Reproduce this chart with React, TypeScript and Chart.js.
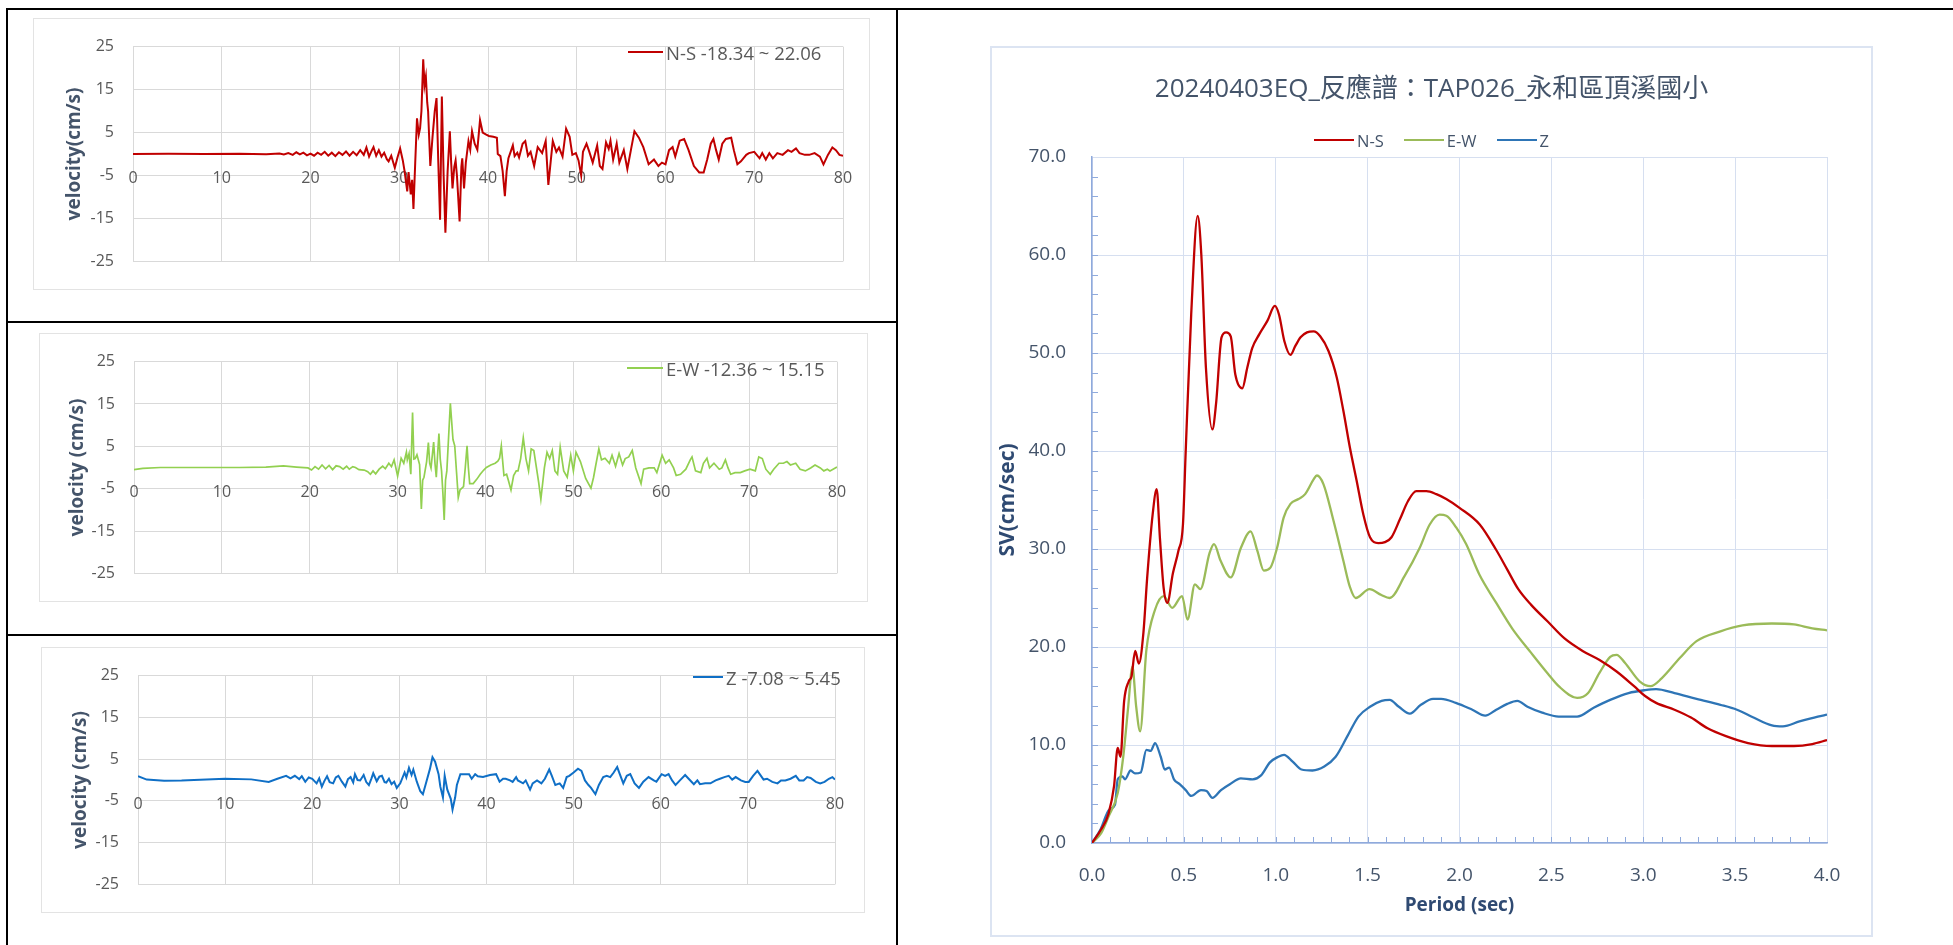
import React, { useEffect, useRef } from 'react';
import { Chart, registerables } from 'chart.js';

Chart.register(...registerables);

// ---------------- DATA ----------------
const timeTicks = [0, 10, 20, 30, 40, 50, 60, 70, 80];
const velocityTicks = [-25, -15, -5, 5, 15, 25];
const periodTicks = [0, 0.5, 1.0, 1.5, 2.0, 2.5, 3.0, 3.5, 4.0];
const svTicks = [0, 10, 20, 30, 40, 50, 60, 70];

const nsLabel = 'N-S -18.34 ~ 22.06';
const ewLabel = 'E-W -12.36 ~ 15.15';
const zLabel = 'Z -7.08 ~ 5.45';
const spectrumTitle = '20240403EQ_反應譜：TAP026_永和區頂溪國小';
const seriesNames = ['N-S', 'E-W', 'Z'];

const nsVelocity = [
  [0, 0], [4, 0.05], [8, 0], [12, 0.05], [15, -0.05], [16.5, 0.1], [17, -0.1], [17.5, 0.2], [18, -0.2], [18.4, 0.4],
  [18.8, -0.1], [19.2, 0.3], [19.6, -0.3], [20, 0.1], [20.4, -0.4], [20.8, 0.3], [21.2, -0.2], [21.6, 0.5], [22, -0.4],
  [22.4, 0.3], [22.8, -0.5], [23.2, 0.4], [23.6, -0.2], [24, 0.6], [24.4, -0.4], [24.8, 0.5], [25.2, -0.3], [25.6, 0.9],
  [26, -0.2], [26.3, 1.5], [26.6, -0.6], [26.9, 0.8], [27.1, 1.6], [27.4, -0.4], [27.7, 0.9], [28, -0.6], [28.3, 0.3],
  [28.6, -1.2], [28.8, -1.7], [29.1, -0.4], [29.5, -3.2], [29.8, -0.8], [30.1, 1.3], [30.4, -1.5], [30.6, -4],
  [30.9, -8.7], [31.05, -4.2], [31.3, -9.4], [31.45, -6], [31.6, -12.8], [31.8, -2], [32, 8.3], [32.2, 4.5],
  [32.35, 6], [32.5, 10], [32.7, 22.06], [32.85, 16], [33.0, 18], [33.15, 12], [33.25, 10], [33.5, -2.8], [33.75, 4],
  [34.0, 10], [34.2, 13], [34.4, -2], [34.6, -15.3], [34.8, 13.4], [35.0, -5], [35.2, -18.34], [35.45, -4], [35.7, 5.3],
  [35.85, -2], [36.0, -8], [36.2, -3], [36.35, -1.5], [36.5, -5], [36.8, -15.7], [37.0, -3], [37.1, -1], [37.3, -8],
  [37.5, -2], [37.8, 3], [38.0, 1], [38.2, 5.3], [38.5, 2.4], [38.8, 1], [39.1, 7.9], [39.4, 5], [39.8, 4.5],
  [40.1, 4.2], [40.6, 4.0], [41.0, 3.8], [41.1, 0], [41.4, -0.5], [41.65, -4], [41.9, -9.8], [42.1, -4], [42.3, -1],
  [42.55, 0.5], [42.8, 2], [43.0, -0.5], [43.3, 0.3], [43.5, -0.8], [43.9, 2.4], [44.2, 3], [44.5, -0.4], [44.8, 0.5],
  [45.2, -2.8], [45.6, 1.6], [46.1, 0.2], [46.5, 3], [46.8, -7.2], [47.1, -1], [47.3, 3], [47.7, 0.5], [48.0, 1.5],
  [48.4, -0.6], [48.8, 5.9], [49.2, 4], [49.5, -0.2], [49.9, 0.2], [50.2, -1.5], [50.5, -5], [50.7, 0.5], [51.1, 2.4],
  [51.4, 0.6], [51.8, -2], [52.3, 2], [52.6, -2.8], [52.9, -3.5], [53.3, 2.7], [53.6, 1.2], [53.8, 3.1], [54.1, -1.3],
  [54.5, 2.4], [54.8, -2], [55.3, 0.9], [55.7, -3.5], [56.1, 0.9], [56.5, 5.3], [57.0, 3.8], [57.5, 1.6], [58.1, -2.4],
  [58.7, -1.3], [59.2, -2.8], [59.6, -2], [60, -2.4], [60.4, 0.9], [60.8, 1.6], [61.1, -0.6], [61.6, 3.1], [62.1, 3.5],
  [62.6, 0.9], [63.2, -2.8], [63.8, -4.3], [64.3, -4.3], [64.7, -1.3], [65.1, 2.4], [65.4, 3.5], [65.7, 0.9],
  [66.0, -1.3], [66.4, 2.4], [66.8, 3.5], [67.4, 3.8], [67.7, 0.9], [68.1, -2.4], [68.5, -1.7], [69.1, -0.2],
  [69.4, 0.2], [70.0, 0.5], [70.6, -1], [70.9, 0.2], [71.3, -1.3], [71.7, 0.2], [72.1, -1], [72.6, 0.2], [73.2, -0.2],
  [73.8, 0.9], [74.2, 0.5], [74.7, 1.3], [75.1, 0.2], [75.7, -0.2], [76.2, -0.2], [76.8, 0.2], [77.4, -0.6],
  [77.8, -2.4], [78.3, -0.2], [78.8, 1.5], [79.2, 0.9], [79.6, -0.2], [80, -0.4],
];

const ewVelocity = [
  [0, -0.5], [1, -0.2], [3, 0], [8, 0], [12, 0], [15, 0.1], [17, 0.4], [18.5, 0.1], [19.8, -0.1], [20.2, -0.6],
  [20.6, 0.2], [21, -0.4], [21.4, 0.6], [21.8, -0.3], [22.2, 0.5], [22.6, -0.5], [23, 0.4], [23.4, 0.2], [23.8, -0.4],
  [24.2, 0.3], [24.5, -0.4], [24.9, 0.2], [25.2, 0], [25.6, -0.5], [26.2, -0.6], [26.6, -1.0], [26.9, -1.6],
  [27.2, -0.8], [27.5, -1.5], [27.9, -0.4], [28.3, 0.3], [28.6, -0.3], [29, 1], [29.3, 0.2], [29.6, 1.8], [30, -2],
  [30.4, 2.2], [30.7, 1], [31, 3.6], [31.1, 1.8], [31.3, 3.3], [31.5, -1.6], [31.7, 13], [31.85, 2], [32, 2.1],
  [32.2, 3], [32.5, 0.7], [32.7, -9.8], [32.85, -3], [33, -2.3], [33.3, 1.4], [33.5, 5.9], [33.65, 1], [33.8, -0.1],
  [34.1, 6], [34.25, 1], [34.4, -2.3], [34.55, 3], [34.7, 8], [34.85, 2], [35, -0.8], [35.15, -6], [35.3, -12.36],
  [35.45, -3], [35.6, -0.8], [36, 15.15], [36.3, 6.6], [36.5, 5.1], [36.7, -1], [36.9, -7.1], [37.1, -5.3],
  [37.5, -4.5], [37.7, 0], [37.9, 5.1], [38.05, 0], [38.2, -3.8], [38.6, -3.8], [39, -2.8], [39.4, -1.6], [39.8, -0.6],
  [40.1, 0], [40.6, 0.6], [41.1, 1], [41.4, 1.5], [41.6, 2.2], [41.8, 5.1], [42.1, -1.9], [42.4, -1.6], [42.6, -3],
  [42.9, -5.3], [43.2, -1.9], [43.5, -0.8], [43.7, -0.8], [44, 2.1], [44.3, 7], [44.6, 2.1], [44.9, -0.8], [45.2, 4.4],
  [45.5, 4], [45.8, -0.1], [46.05, -3.5], [46.3, -7.5], [46.7, -0.1], [47, 3.6], [47.3, 2.1], [47.6, 4], [47.9, -0.8],
  [48.2, -1.6], [48.5, 4.8], [48.9, -0.8], [49.3, -2.3], [49.7, 2.9], [50, -0.8], [50.3, 3.6], [50.8, 1.4],
  [51.4, -2.6], [52, -4.9], [52.3, -2.3], [52.5, 0], [52.9, 4.4], [53.2, 1.8], [53.6, 2.2], [54.1, 1], [54.4, 2.9],
  [54.8, 0.3], [55.2, 3.3], [55.6, 0.6], [55.9, 2.1], [56.3, 2.5], [56.7, 4], [57.1, -0.1], [57.7, -3.8], [58, -0.4],
  [58.6, -0.1], [59.2, -0.1], [59.5, -1.2], [60.1, 2.9], [60.5, 1], [60.9, 1.8], [61.4, -0.1], [61.7, -1.9],
  [62.2, -1.6], [62.8, -0.4], [63.3, 1.8], [63.5, 2.5], [63.9, -0.8], [64.5, -1.2], [64.8, 1], [65.2, 2.2],
  [65.5, -0.1], [66, 1], [66.6, -0.4], [66.9, -0.1], [67.3, 1.8], [67.6, -0.1], [67.9, -1.6], [68.4, -1.2],
  [69, -1.2], [69.5, -0.8], [70.1, -0.4], [70.7, -0.8], [71.1, 2.5], [71.5, 2.1], [71.9, -0.4], [72.4, -1.6],
  [72.8, -0.4], [73.4, 1], [73.9, 1], [74.3, 1.4], [74.7, 0.6], [75.3, 1], [75.8, -0.4], [76.4, -0.8], [77, -0.1],
  [77.5, 0.6], [78.1, -0.1], [78.5, -0.8], [78.9, -0.4], [79.2, -0.8], [80, 0.1],
];

const zVelocity = [
  [0, 0.9], [1, 0.1], [3, -0.15], [5, -0.1], [10, 0.3], [13, 0.15], [15, -0.45], [16, 0.3], [17, 1.0], [17.5, 0.4],
  [18, 1.0], [18.5, 0.2], [18.8, 0.9], [19.2, -0.45], [19.6, 0.6], [20, 0.3], [20.5, -0.8], [20.8, 0.4], [21.1, -1.6],
  [21.4, -0.2], [21.7, 0.9], [22, -0.5], [22.4, -0.8], [22.7, 0.6], [23, 1.0], [23.4, -0.4], [23.8, -1.6], [24.1, 0.2],
  [24.4, 0.7], [24.7, -0.6], [24.9, 1.4], [25.2, 0], [25.5, -0.1], [25.9, 1.2], [26.2, -0.5], [26.5, -1.2], [26.8, 0.4],
  [27, 1.6], [27.4, -0.3], [27.7, 0.8], [28, 1.0], [28.3, -0.5], [28.5, -0.6], [28.8, 0.3], [29.1, -1.0], [29.4, -0.4],
  [29.7, -1.9], [30.1, -0.8], [30.6, 1.8], [30.8, 0.6], [31.1, 2.9], [31.4, 1.2], [31.6, 2.5], [32, -0.4], [32.4, -2.7],
  [32.7, -3.4], [33.1, -0.4], [33.5, 2.6], [33.8, 5.45], [34.1, 4.4], [34.5, 1.4], [34.7, -1.6], [35, -4.2], [35.2, 1.0],
  [35.5, -2.3], [35.9, -4.5], [36.1, -7.08], [36.4, -4.2], [36.6, -1.2], [37, 1.4], [37.5, 1.4], [38, 1.4], [38.3, 0.3],
  [38.7, 1.4], [39, 0.9], [39.6, 0.7], [40.4, 1.2], [41.1, 1.4], [41.5, -0.4], [41.9, 0.3], [42.2, 0.3], [42.7, -0.1],
  [43, -0.45], [43.4, 0.7], [43.6, -0.1], [44.2, -0.8], [44.5, -0.1], [45, -2.3], [45.3, -0.8], [45.8, -0.1],
  [46.3, -0.8], [46.7, 0.3], [47.2, 2.5], [47.5, 1], [47.9, -1.2], [48.4, -0.8], [48.8, -1.9], [49.2, 0.7], [49.5, 1],
  [50, 1.8], [50.5, 2.7], [50.9, 2.2], [51.3, -0.1], [51.7, -1.2], [52, -1.9], [52.5, -3.4], [52.9, -1.2], [53.4, 0.7],
  [53.8, 1], [54.2, 0.7], [54.6, 1.8], [55, 3.1], [55.3, 1.4], [55.7, -0.8], [56.1, 1], [56.5, 1.4], [57, -0.8],
  [57.5, -1.9], [58, -0.4], [58.6, 0.7], [59.2, -0.1], [59.5, -0.4], [60.1, 1.4], [60.5, 1], [60.9, 1.4], [61.3, -0.1],
  [61.7, -1.2], [62.2, -0.1], [62.8, 1.2], [63.2, 0.3], [63.8, -1], [64.2, -0.1], [64.5, -1], [65.1, -0.8], [65.7, -0.8],
  [66.3, -0.1], [66.8, 0.3], [67.3, 0.7], [67.8, 1], [68.2, 0.1], [68.6, 0.7], [69.2, -0.1], [69.7, -0.45],
  [70.1, -0.45], [70.6, 1], [71.1, 2.2], [71.5, 1], [71.8, 0.1], [72.2, 0.3], [72.8, -0.45], [73.4, -0.8], [73.8, -0.1],
  [74.3, -0.1], [74.9, 0.3], [75.5, 1], [75.9, -0.1], [76.4, -0.1], [76.8, 0.7], [77.2, 0.5], [77.8, -0.45],
  [78.3, -0.8], [78.8, -0.45], [79.3, 0.3], [79.7, 0.7], [80, 0.1],
];

const nsSpectrum = [
  [0, 0], [0.05, 1.4], [0.09, 3], [0.12, 5.8], [0.14, 9.7], [0.155, 8.8], [0.175, 14.5], [0.2, 16.5], [0.215, 17],
  [0.235, 19.6], [0.255, 18.3], [0.28, 21.5], [0.3, 27], [0.33, 33.5], [0.352, 36.1], [0.37, 31], [0.39, 26],
  [0.41, 24.5], [0.44, 27.5], [0.47, 29.8], [0.495, 32.5], [0.51, 40], [0.54, 54], [0.575, 64], [0.595, 60],
  [0.62, 48.5], [0.655, 42.2], [0.675, 44.8], [0.705, 51.6], [0.73, 52.1], [0.755, 51.7], [0.78, 47.8], [0.818, 46.4],
  [0.845, 48.5], [0.872, 50.5], [0.91, 51.9], [0.955, 53.3], [0.995, 54.8], [1.018, 53.9], [1.047, 51.2], [1.08, 49.8],
  [1.106, 50.7], [1.135, 51.6], [1.17, 52.1], [1.206, 52.2], [1.242, 51.7], [1.287, 50.2], [1.332, 47.5],
  [1.368, 44.1], [1.404, 40.3], [1.44, 37], [1.477, 33.5], [1.513, 31.2], [1.558, 30.6], [1.594, 30.7], [1.63, 31.2],
  [1.675, 33], [1.72, 34.9], [1.765, 35.9], [1.82, 35.9], [1.874, 35.6], [1.928, 35.1], [2.0, 34.2], [2.11, 32.5],
  [2.2, 29.9], [2.26, 27.9], [2.32, 25.9], [2.39, 24.3], [2.48, 22.6], [2.57, 20.9], [2.67, 19.6], [2.76, 18.7],
  [2.855, 17.5], [2.95, 16], [3.01, 15], [3.07, 14.3], [3.17, 13.6], [3.26, 12.8], [3.35, 11.7], [3.45, 10.9],
  [3.57, 10.2], [3.7, 9.9], [3.82, 9.9], [3.92, 10.1], [4.0, 10.5],
];

const ewSpectrum = [
  [0, 0], [0.05, 1], [0.09, 2.7], [0.14, 5.1], [0.17, 8.8], [0.197, 13.9], [0.22, 18], [0.24, 14], [0.262, 11.4],
  [0.296, 19.7], [0.343, 23.8], [0.39, 25.2], [0.437, 24], [0.49, 25.2], [0.52, 22.8], [0.56, 26.4], [0.59, 25.9],
  [0.64, 29.6], [0.664, 30.5], [0.7, 28.8], [0.755, 27.1], [0.81, 30.1], [0.863, 31.8], [0.9, 29.8], [0.935, 27.8],
  [0.971, 28.1], [1.007, 30.1], [1.043, 33.2], [1.08, 34.6], [1.124, 35.1], [1.16, 35.6], [1.206, 37.1], [1.224, 37.5],
  [1.26, 36.6], [1.314, 32.9], [1.368, 28.8], [1.404, 26.1], [1.435, 25], [1.51, 25.9], [1.575, 25.3], [1.62, 25],
  [1.7, 27.2], [1.783, 30.1], [1.838, 32.5], [1.892, 33.5], [1.928, 33.4], [1.982, 32.2], [2.036, 30.5], [2.108, 27.4],
  [2.2, 24.5], [2.29, 21.8], [2.39, 19.4], [2.48, 17.3], [2.54, 16], [2.64, 14.8], [2.7, 15.3], [2.76, 17.3],
  [2.82, 19], [2.855, 19.2], [2.9, 18.4], [2.98, 16.5], [3.04, 16], [3.1, 16.8], [3.2, 18.9], [3.29, 20.6],
  [3.42, 21.6], [3.54, 22.2], [3.7, 22.4], [3.82, 22.3], [3.92, 21.9], [4.0, 21.7],
];

const zSpectrum = [
  [0, 0], [0.047, 1.4], [0.094, 3.4], [0.125, 3.9], [0.14, 6.5], [0.165, 6.8], [0.18, 6.5], [0.21, 7.4], [0.234, 7.1],
  [0.265, 7.2], [0.296, 9.5], [0.32, 9.4], [0.343, 10.2], [0.374, 8.8], [0.396, 7.5], [0.42, 7.7], [0.446, 6.5],
  [0.477, 6], [0.51, 5.4], [0.54, 4.8], [0.593, 5.4], [0.624, 5.3], [0.655, 4.6], [0.702, 5.4], [0.75, 6], [0.81, 6.6],
  [0.874, 6.5], [0.92, 6.9], [0.967, 8.2], [1.014, 8.8], [1.045, 9.0], [1.092, 8.3], [1.14, 7.5], [1.2, 7.4],
  [1.264, 7.8], [1.326, 8.8], [1.39, 10.9], [1.45, 12.9], [1.513, 13.9], [1.576, 14.5], [1.62, 14.6], [1.67, 13.9],
  [1.73, 13.2], [1.79, 14.1], [1.856, 14.7], [1.9, 14.7], [1.98, 14.3], [2.07, 13.6], [2.14, 13.0], [2.2, 13.6],
  [2.26, 14.2], [2.315, 14.5], [2.37, 13.9], [2.45, 13.3], [2.54, 12.9], [2.64, 12.9], [2.73, 13.8], [2.82, 14.6],
  [2.92, 15.3], [3.01, 15.6], [3.07, 15.7], [3.17, 15.3], [3.29, 14.7], [3.42, 14.1], [3.51, 13.6], [3.6, 12.8],
  [3.7, 12], [3.76, 11.9], [3.85, 12.4], [3.95, 12.9], [4.0, 13.1],
];

// ---------------- STYLE ----------------
const FONT = "'Open Sans', 'Noto Sans', sans-serif";
const CJK_FONT = "'Open Sans', 'Noto Sans CJK TC', sans-serif";
const NS_RED = '#C00000';
const EW_GREEN = '#92D050';
const Z_BLUE = '#0F6FC6';
const SP_RED = '#C00000';
const SP_GREEN = '#9BBB59';
const SP_BLUE = '#2E75B6';
const TICK_GREY = '#595959';
const SLATE = '#44546A';
const AXIS_BLUE = '#8FAADC';

type Pair = number[];

interface PanelCfg {
  data: Pair[];
  color: string;
  lineWidth: number;
  label: string;
  yTitle: string;
  box: { left: number; top: number; width: number; height: number };
  plotLeft: number;
  padTop: number;
  padRight: number;
  padBottom: number;
  titlePad: number;
  legend: { left: number; cy: number; line: number };
}

const panels: PanelCfg[] = [
  {
    data: nsVelocity, color: NS_RED, lineWidth: 2, label: nsLabel, yTitle: 'velocity(cm/s)',
    box: { left: 33, top: 18, width: 837, height: 272 }, plotLeft: 100, padTop: 22, padRight: 27, padBottom: 24,
    titlePad: 30, legend: { left: 628, cy: 52, line: 35 },
  },
  {
    data: ewVelocity, color: EW_GREEN, lineWidth: 1.7, label: ewLabel, yTitle: 'velocity (cm/s)',
    box: { left: 39, top: 333, width: 829, height: 269 }, plotLeft: 95, padTop: 23, padRight: 31, padBottom: 22,
    titlePad: 27, legend: { left: 627, cy: 368, line: 36 },
  },
  {
    data: zVelocity, color: Z_BLUE, lineWidth: 2, label: zLabel, yTitle: 'velocity (cm/s)',
    box: { left: 41, top: 647, width: 824, height: 266 }, plotLeft: 97, padTop: 23, padRight: 30, padBottom: 20,
    titlePad: 28, legend: { left: 693, cy: 677, line: 30 },
  },
];

function VelocityPanel({ cfg }: { cfg: PanelCfg }) {
  const ref = useRef<HTMLCanvasElement>(null);
  useEffect(() => {
    const chart = new Chart(ref.current as HTMLCanvasElement, {
      type: 'line',
      data: {
        datasets: [
          {
            label: cfg.label,
            data: cfg.data.map(([x, y]) => ({ x, y })),
            borderColor: cfg.color,
            borderWidth: cfg.lineWidth,
            pointRadius: 0,
            tension: 0,
            fill: false,
          },
        ],
      },
      options: {
        responsive: false,
        animation: false,
        events: [],
        layout: { padding: { left: 0, top: cfg.padTop, right: cfg.padRight, bottom: cfg.padBottom } },
        plugins: { legend: { display: false }, tooltip: { enabled: false }, title: { display: false } },
        scales: {
          x: {
            type: 'linear',
            axis: 'x',
            position: { y: 0 } as any,
            min: 0,
            max: 80,
            afterBuildTicks: (s: any) => { s.ticks = timeTicks.map((v) => ({ value: v })); },
            afterFit: (s: any) => { s.height = 0; },
            ticks: { padding: 15, color: TICK_GREY, font: { family: FONT, size: 16 }, maxRotation: 0, autoSkip: false },
            grid: { color: '#D9D9D9', drawTicks: false, lineWidth: 1 },
            border: { display: false },
          },
          y: {
            type: 'linear',
            position: 'left',
            min: -25,
            max: 25,
            afterBuildTicks: (s: any) => { s.ticks = velocityTicks.map((v) => ({ value: v })); },
            afterFit: (s: any) => { s.width = cfg.plotLeft; },
            ticks: { padding: 19, color: TICK_GREY, font: { family: FONT, size: 16 }, autoSkip: false },
            grid: { color: '#D9D9D9', drawTicks: false, lineWidth: 1 },
            border: { display: false },
            title: {
              display: true,
              text: cfg.yTitle,
              color: SLATE,
              font: { family: FONT, size: 19, weight: 'bold' },
              padding: { top: cfg.titlePad, bottom: 0 },
            },
          },
        },
      },
    } as any);
    return () => chart.destroy();
  }, [cfg]);

  return (
    <>
      <div
        style={{
          position: 'absolute', left: cfg.box.left, top: cfg.box.top, width: cfg.box.width, height: cfg.box.height,
          border: '1px solid #E3E3E3', boxSizing: 'border-box', background: '#fff',
        }}
      />
      <canvas
        ref={ref}
        width={cfg.box.width}
        height={cfg.box.height}
        style={{ position: 'absolute', left: cfg.box.left, top: cfg.box.top, width: cfg.box.width, height: cfg.box.height }}
      />
      <div
        style={{
          position: 'absolute', left: cfg.legend.left, top: cfg.legend.cy - 12, height: 24, display: 'flex',
          alignItems: 'center', whiteSpace: 'nowrap', fontFamily: FONT, fontSize: 18.5, color: TICK_GREY,
        }}
      >
        <span style={{ display: 'inline-block', width: cfg.legend.line, height: 2, background: cfg.color, marginRight: 3 }} />
        <span>{cfg.label}</span>
      </div>
    </>
  );
}

const minorTicksPlugin = {
  id: 'minorTicks',
  beforeDatasetsDraw(chart: any) {
    const { ctx, chartArea, scales } = chart;
    ctx.save();
    ctx.strokeStyle = AXIS_BLUE;
    ctx.lineWidth = 1;
    ctx.beginPath();
    for (let i = 1; i < 40; i++) {
      const x = Math.round(scales.x.getPixelForValue(i * 0.1)) + 0.5;
      ctx.moveTo(x, chartArea.bottom);
      ctx.lineTo(x, chartArea.bottom - 6);
    }
    for (let i = 1; i < 35; i++) {
      const y = Math.round(scales.y.getPixelForValue(i * 2)) + 0.5;
      ctx.moveTo(chartArea.left, y);
      ctx.lineTo(chartArea.left + 6, y);
    }
    ctx.stroke();
    ctx.restore();
  },
};

const SP_BOX = { left: 990, top: 46, width: 883, height: 891 };

function SpectrumPanel() {
  const ref = useRef<HTMLCanvasElement>(null);
  useEffect(() => {
    const mk = (name: string, d: Pair[], color: string) => ({
      label: name,
      data: d.map(([x, y]) => ({ x, y })),
      borderColor: color,
      borderWidth: 2.3,
      pointRadius: 0,
      cubicInterpolationMode: 'monotone',
      fill: false,
    });
    const chart = new Chart(ref.current as HTMLCanvasElement, {
      type: 'line',
      data: {
        datasets: [
          mk(seriesNames[0], nsSpectrum, SP_RED),
          mk(seriesNames[1], ewSpectrum, SP_GREEN),
          mk(seriesNames[2], zSpectrum, SP_BLUE),
        ],
      },
      options: {
        responsive: false,
        animation: false,
        events: [],
        layout: { padding: { left: 0, top: 111, right: 46, bottom: 0 } },
        plugins: { legend: { display: false }, tooltip: { enabled: false }, title: { display: false } },
        scales: {
          x: {
            type: 'linear',
            position: 'bottom',
            min: 0,
            max: 4,
            afterBuildTicks: (s: any) => { s.ticks = periodTicks.map((v) => ({ value: v })); },
            afterFit: (s: any) => { s.height = 94; },
            ticks: {
              padding: 21, color: SLATE, font: { family: FONT, size: 19 }, maxRotation: 0, autoSkip: false,
              callback: (v: any) => Number(v).toFixed(1),
            },
            grid: { color: '#D6DFF0', drawTicks: false, lineWidth: 1 },
            border: { display: true, color: AXIS_BLUE, width: 1.5 },
            title: {
              display: true, text: 'Period (sec)', color: '#2F4A72',
              font: { family: FONT, size: 19, weight: 'bold' }, padding: { top: 0, bottom: 20 },
            },
          },
          y: {
            type: 'linear',
            position: 'left',
            min: 0,
            max: 70,
            afterBuildTicks: (s: any) => { s.ticks = svTicks.map((v) => ({ value: v })); },
            afterFit: (s: any) => { s.width = 102; },
            ticks: {
              padding: 26, color: SLATE, font: { family: FONT, size: 19 }, autoSkip: false,
              callback: (v: any) => Number(v).toFixed(1),
            },
            grid: { color: '#D6DFF0', drawTicks: false, lineWidth: 1 },
            border: { display: true, color: AXIS_BLUE, width: 1.5 },
            title: {
              display: true, text: 'SV(cm/sec)', color: '#2F4A72',
              font: { family: FONT, size: 21, weight: 'bold' }, padding: { top: 5, bottom: 0 },
            },
          },
        },
      },
      plugins: [minorTicksPlugin],
    } as any);
    return () => chart.destroy();
  }, []);

  const legendColors = [SP_RED, SP_GREEN, SP_BLUE];
  return (
    <>
      <div
        style={{
          position: 'absolute', left: SP_BOX.left, top: SP_BOX.top, width: SP_BOX.width, height: SP_BOX.height,
          border: '2px solid #DCE4F2', boxSizing: 'border-box', background: '#fff',
        }}
      />
      <canvas
        ref={ref}
        width={SP_BOX.width}
        height={SP_BOX.height}
        style={{ position: 'absolute', left: SP_BOX.left, top: SP_BOX.top, width: SP_BOX.width, height: SP_BOX.height }}
      />
      <div
        style={{
          position: 'absolute', left: SP_BOX.left, top: 71, width: SP_BOX.width, textAlign: 'center',
          fontFamily: CJK_FONT, fontSize: 26, lineHeight: '32px', color: SLATE, whiteSpace: 'nowrap',
        }}
      >
        {spectrumTitle}
      </div>
      <div
        style={{
          position: 'absolute', left: SP_BOX.left, top: 128, width: SP_BOX.width, height: 24, display: 'flex',
          justifyContent: 'center', alignItems: 'center', fontFamily: FONT, fontSize: 16.5, color: SLATE,
          whiteSpace: 'nowrap',
        }}
      >
        {seriesNames.map((n, i) => (
          <span key={n} style={{ display: 'inline-flex', alignItems: 'center', marginLeft: i === 0 ? 0 : 20 }}>
            <span style={{ display: 'inline-block', width: 40, height: 2.5, background: legendColors[i], marginRight: 3 }} />
            <span>{n}</span>
          </span>
        ))}
      </div>
    </>
  );
}

function Line({ l, t, w, h }: { l: number; t: number; w: number; h: number }) {
  return <div style={{ position: 'absolute', left: l, top: t, width: w, height: h, background: '#000' }} />;
}

export default function App() {
  return (
    <div style={{ position: 'absolute', left: 0, top: 0, width: 1953, height: 945, background: '#fff', overflow: 'hidden' }}>
      {panels.map((p, i) => (
        <VelocityPanel key={i} cfg={p} />
      ))}
      <SpectrumPanel />
      <Line l={6} t={8} w={1947} h={2} />
      <Line l={6} t={8} w={2} h={937} />
      <Line l={896} t={8} w={2} h={937} />
      <Line l={6} t={321} w={892} h={2} />
      <Line l={6} t={634} w={892} h={2} />
    </div>
  );
}
